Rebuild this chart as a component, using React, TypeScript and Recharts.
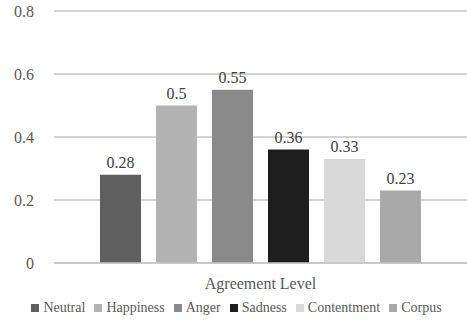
import React from "react";
import { BarChart, Bar, XAxis, YAxis, CartesianGrid, Legend, LabelList } from "recharts";

const emotions = ["Neutral", "Happiness", "Anger", "Sadness", "Contentment", "Corpus"];
const agreement = [0.28, 0.5, 0.55, 0.36, 0.33, 0.23];
const fills = ["#5f5f5f", "#b3b3b3", "#8a8a8a", "#1e1e1e", "#d9d9d9", "#a9a9a9"];
const yTicks = [0, 0.2, 0.4, 0.6, 0.8];
const groupLabel = "Agreement Level";

const row: Record<string, string | number> = { name: groupLabel };
emotions.forEach((e, i) => {
  row[e] = agreement[i];
});
const data = [row];

const font = "Liberation Serif, Times New Roman, serif";

function EmotionLegend() {
  return (
    <div
      style={{
        height: 20,
        display: "flex",
        justifyContent: "center",
        alignItems: "center",
        fontFamily: font,
        fontSize: 14,
        color: "#595959",
        whiteSpace: "nowrap",
        paddingLeft: 6,
      }}
    >
      {emotions.map((e, i) => (
        <span key={e} style={{ display: "inline-flex", alignItems: "center", marginRight: i < emotions.length - 1 ? 9 : 0 }}>
          <span style={{ display: "inline-block", width: 8, height: 8, background: fills[i], marginRight: 4 }} />
          {e}
        </span>
      ))}
    </div>
  );
}

export default function App() {
  return (
    <div style={{ position: "absolute", left: 0, top: 0, background: "#fff", fontFamily: font }}>
      <BarChart
        width={467}
        height={324}
        data={data}
        margin={{ top: 11, right: 0, left: 0, bottom: 6 }}
        barGap={15}
        barSize={41}
        style={{ fontFamily: font }}
      >
        <CartesianGrid vertical={false} stroke="#c6c6c6" strokeWidth={1.3} />
        <XAxis
          dataKey="name"
          axisLine={{ stroke: "#c6c6c6", strokeWidth: 1.3 }}
          tickLine={false}
          tick={{ fill: "#595959", fontSize: 16, fontFamily: font }}
          tickMargin={9}
          height={35}
        />
        <YAxis
          domain={[0, 0.8]}
          ticks={yTicks}
          width={54}
          axisLine={false}
          tickLine={false}
          tickMargin={17}
          tickFormatter={(v: number) => String(v)}
          tick={{ fill: "#595959", fontSize: 16, fontFamily: font, dx: 3 }}
        />
        <Legend verticalAlign="bottom" height={20} content={() => <EmotionLegend />} />
        {emotions.map((e, i) => (
          <Bar key={e} dataKey={e} fill={fills[i]} isAnimationActive={false}>
            <LabelList
              dataKey={e}
              position="top"
              offset={7}
              style={{ fill: "#404040", fontSize: 16, fontFamily: font }}
            />
          </Bar>
        ))}
      </BarChart>
    </div>
  );
}
